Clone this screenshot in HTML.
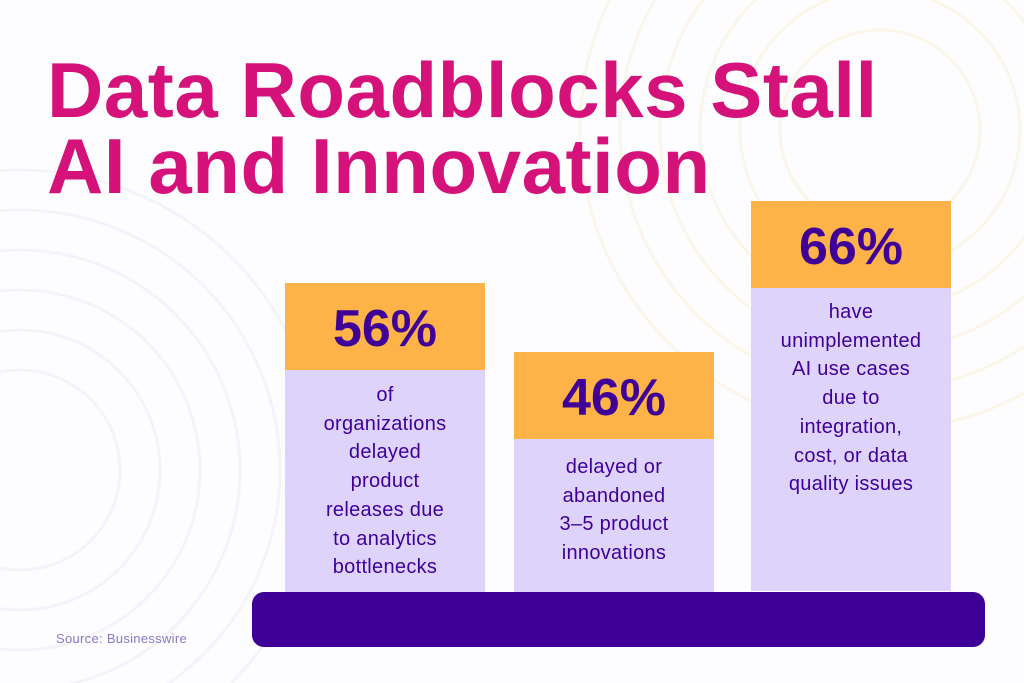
<!DOCTYPE html>
<html style="overflow:hidden"><head><style>
html,body{margin:0;width:1024px;height:683px;overflow:hidden}
body{background:#fdfcff;font-family:"Liberation Sans",sans-serif;position:relative}
.t{position:absolute;left:47px;top:52px;font-size:78px;font-weight:bold;color:#d4127a;line-height:76px;letter-spacing:0.55px;white-space:nowrap}
.bar{position:absolute;width:200px}
.h{background:#fdb347;height:87px;color:#3f0097;font-weight:bold;font-size:52px;text-align:center;line-height:92px}
.b{background:#ddd3fb;color:#3f0097;font-size:20px;line-height:28.7px;text-align:center;padding-top:11px;letter-spacing:0.3px}
.base{position:absolute;left:252px;top:592px;width:733px;height:55px;background:#3f0097;border-radius:12px}
.src{position:absolute;left:56px;top:631px;font-size:13px;color:#8a78c8;letter-spacing:0.3px}
</style></head><body>
<svg width="1024" height="683" style="position:absolute;left:0;top:0;display:block">
<g fill="none" stroke="#f5f3fa" stroke-width="3">
<circle cx="20" cy="470" r="100"/><circle cx="20" cy="470" r="140"/><circle cx="20" cy="470" r="180"/><circle cx="20" cy="470" r="220"/><circle cx="20" cy="470" r="260"/><circle cx="20" cy="470" r="300"/>
</g>
<g fill="none" stroke="#fcf6e9" stroke-width="3">
<circle cx="880" cy="130" r="100"/><circle cx="880" cy="130" r="140"/><circle cx="880" cy="130" r="180"/><circle cx="880" cy="130" r="220"/><circle cx="880" cy="130" r="260"/><circle cx="880" cy="130" r="300"/>
</g>
</svg>
<div class="t">Data Roadblocks Stall<br>AI and Innovation</div>
<div class="bar" style="left:285px;top:283px"><div class="h">56%</div><div class="b" style="height:211px">of<br>organizations<br>delayed<br>product<br>releases due<br>to analytics<br>bottlenecks</div></div>
<div class="bar" style="left:514px;top:352px"><div class="h">46%</div><div class="b" style="height:142px;padding-top:14px">delayed or<br>abandoned<br>3–5 product<br>innovations</div></div>
<div class="bar" style="left:751px;top:201px"><div class="h">66%</div><div class="b" style="height:293px;padding-top:10px">have<br>unimplemented<br>AI use cases<br>due to<br>integration,<br>cost, or data<br>quality issues</div></div>
<div class="base"></div>
<div class="src">Source: Businesswire</div>
</body></html>
